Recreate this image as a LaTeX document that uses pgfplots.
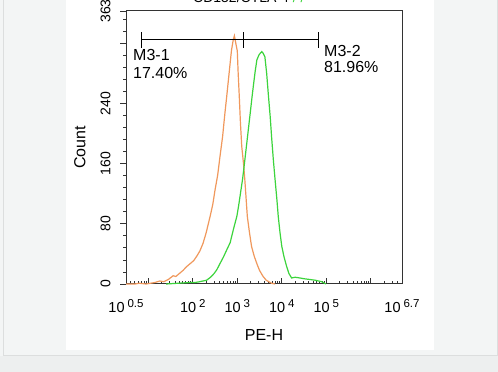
\documentclass[border=0pt]{standalone}
\usepackage{pgfplots}
\pgfplotsset{compat=1.18}
\usepackage{fontspec}
\setmainfont{Liberation Sans}
\definecolor{bgout}{HTML}{F3F5F5}
\definecolor{bgbottom}{HTML}{EDEFEF}
\definecolor{edgegray}{HTML}{DCDEDE}
\definecolor{axgray}{HTML}{333333}
\definecolor{corange}{RGB}{240,152,92}
\definecolor{cgreen}{RGB}{60,212,60}
\newcommand\tl[1]{10\hspace{3pt}\raisebox{4.8pt}{\fontsize{11.5}{12}\selectfont #1}}
\pgfplotstableread{
L c
0.50 0
0.70 0
0.80 1
0.95 0
1.05 1
1.15 2
1.26 4
1.35 3
1.45 6
1.56 11
1.62 10
1.70 14
1.78 18
1.86 23
1.94 27
2.02 31
2.09 37
2.16 44
2.23 54
2.30 68
2.39 90
2.45 106
2.50 125
2.56 145
2.61 169
2.67 196
2.72 226
2.76 248
2.80 271
2.84 294
2.87 311
2.91 325
2.935 330
2.96 322
3.00 310
3.02 280
3.045 249
3.07 215
3.10 183
3.14 160
3.17 138
3.20 112
3.225 90
3.27 70
3.32 50
3.38 37
3.44 27
3.50 18
3.58 10
3.65 5
3.77 1
3.85 0
}\orangedata
\pgfplotstableread{
L c
1.40 0
1.94 2
2.05 2
2.15 3
2.31 5
2.40 9
2.48 14
2.54 19
2.61 27
2.69 36
2.76 45
2.84 55
2.91 72
2.99 90
3.03 104
3.06 116
3.12 140
3.17 165
3.23 196
3.29 227
3.33 248
3.36 263
3.40 282
3.44 298
3.49 305
3.55 309
3.58 307
3.62 302
3.66 280
3.70 250
3.74 222
3.77 196
3.81 165
3.85 138
3.89 112
3.92 90
3.96 68
4.00 50
4.05 36
4.11 23
4.16 14
4.22 8
4.30 9
4.41 8
4.50 7
4.63 6
4.75 5
4.90 3
4.99 0
}\greendata
\begin{document}
\begin{tikzpicture}[x=1pt,y=1pt]
\useasboundingbox (0,0) rectangle (498,372);
\fill[bgout] (0,0) rectangle (498,372);
\fill[bgbottom] (0,0) rectangle (498,16);
\draw[edgegray, line width=1pt] (3,372) -- (3,16) -- (497,16) -- (497,372);
\fill[white] (66,22) rectangle (434,372);
\node[anchor=base west, inner sep=0pt, font=\fontsize{14}{16}\selectfont] at (193,369) {CD152/CTLA-4 \textcolor{cgreen}{/ /}};
\begin{axis}[
  at={(126pt,88pt)}, anchor=south west,
  width=276pt, height=273pt, scale only axis,
  xmin=0.5, xmax=6.7, ymin=0, ymax=363,
  axis line style={axgray, line width=1pt},
  tick style={axgray, line width=0.8pt},
  tick align=inside,
  major tick length=6pt, minor tick length=3pt,
  major y tick style={xshift=-6pt},
  minor y tick style={xshift=-3pt},
  xtick pos=bottom, ytick pos=left,
  xtick={0.5,1,2,3,4,5,6,6.7},
  xticklabels={\tl{0.5},,\tl{2},\tl{3},\tl{4},\tl{5},,\tl{6.7}},
  minor xtick={0.602,0.699,0.778,0.845,0.903,0.954,1.301,1.477,1.602,1.699,1.778,1.845,1.903,1.954,2.301,2.477,2.602,2.699,2.778,2.845,2.903,2.954,3.301,3.477,3.602,3.699,3.778,3.845,3.903,3.954,4.301,4.477,4.602,4.699,4.778,4.845,4.903,4.954,5.301,5.477,5.602,5.699,5.778,5.845,5.903,5.954,6.301,6.477,6.602},
  ytick={0,80,160,240,320,363},
  yticklabels={0,80,160,240,,363},
  minor ytick={16,32,48,64,96,112,128,144,176,192,208,224,256,272,288,304,336,352},
  ticklabel style={font=\fontsize{14}{15}\selectfont},
  xticklabel style={font=\fontsize{14.5}{16}\selectfont, anchor=north, yshift=-12pt},
  yticklabel style={xshift=-12pt, rotate=90, anchor=south},
  xlabel={PE-H}, ylabel={Count},
  label style={font=\fontsize{16}{18}\selectfont},
  xlabel style={at={(axis description cs:0.5,-0.187)}, anchor=center},
  ylabel style={at={(axis description cs:-0.167,0.5)}, anchor=center},
  clip=false,
]
\addplot[corange, line width=1.2pt] table[x=L,y=c] {\orangedata};
\addplot[cgreen, line width=1.2pt] table[x=L,y=c] {\greendata};
\draw[black, line width=1pt] (axis cs:0.853,324.5) -- (axis cs:4.835,324.5);
\draw[black, line width=1pt] (axis cs:0.853,314) -- (axis cs:0.853,335);
\draw[black, line width=1pt] (axis cs:3.15,314) -- (axis cs:3.15,335);
\draw[black, line width=1pt] (axis cs:4.835,314) -- (axis cs:4.835,335);
\end{axis}
\begin{scope}[font=\fontsize{16}{18}\selectfont]
\node[anchor=base west, inner sep=0pt] at (133,311.3) {M3-1};
\node[anchor=base west, inner sep=0pt] at (133,293.7) {17.40\%};
\node[anchor=base west, inner sep=0pt] at (324,315) {M3-2};
\node[anchor=base west, inner sep=0pt] at (324,299) {81.96\%};
\end{scope}
\end{tikzpicture}
\end{document}
